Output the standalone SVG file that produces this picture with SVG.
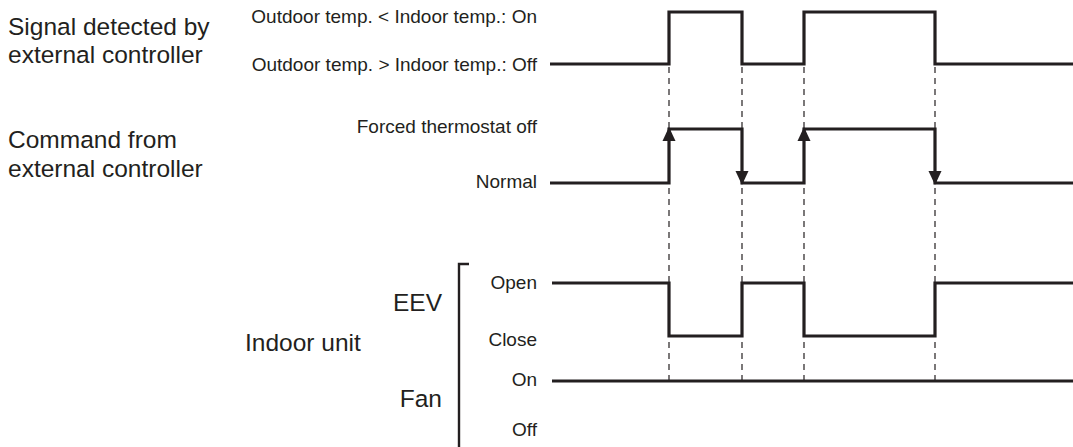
<svg xmlns="http://www.w3.org/2000/svg" width="1073" height="447" viewBox="0 0 1073 447">
  <style>
    text { font-family: "Liberation Sans", Arial, Helvetica, sans-serif; fill: #231f20; }
    .big { font-size: 24.5px; }
    .small { font-size: 19px; text-anchor: end; }
    .wave { fill: none; stroke: #231f20; stroke-width: 3.2; stroke-linejoin: miter; stroke-linecap: butt; }
    .dash { fill: none; stroke: #231f20; stroke-width: 1.2; stroke-dasharray: 6 5; }
    .head { fill: #231f20; }
    .bracket { fill: none; stroke: #231f20; stroke-width: 2.4; }
  </style>
  <rect width="1073" height="447" fill="#ffffff"/>

  <g id="connectors">
    <line class="dash" x1="669" y1="67" x2="669" y2="380"/>
    <line class="dash" x1="742" y1="67" x2="742" y2="380"/>
    <line class="dash" x1="804" y1="67" x2="804" y2="380"/>
    <line class="dash" x1="935" y1="67" x2="935" y2="380"/>
  </g>

  <g id="signal-detected">
    <text class="big" x="8" y="35">Signal detected by</text>
    <text class="big" x="8" y="63">external controller</text>
    <text class="small" x="537" y="23">Outdoor temp. &lt; Indoor temp.: On</text>
    <text class="small" x="537" y="71">Outdoor temp. &gt; Indoor temp.: Off</text>
    <path class="wave" d="M550 64 H669 V12 H742 V64 H804 V12 H935 V64 H1073"/>
  </g>

  <g id="command">
    <text class="big" x="8" y="148">Command from</text>
    <text class="big" x="8" y="177">external controller</text>
    <text class="small" x="537" y="133">Forced thermostat off</text>
    <text class="small" x="537" y="188">Normal</text>
    <path class="wave" d="M550 183 H669 V129 H742 V183 H804 V129 H935 V183 H1073"/>
    <polygon class="head" points="669,127 662.5,141 675.5,141"/>
    <polygon class="head" points="804,127 797.5,141 810.5,141"/>
    <polygon class="head" points="742,185 735.5,171 748.5,171"/>
    <polygon class="head" points="935,185 928.5,171 941.5,171"/>
  </g>

  <g id="indoor-unit">
    <text class="big" x="245" y="351">Indoor unit</text>
    <path class="bracket" d="M469 264 H459 V447"/>
  </g>

  <g id="eev">
    <text class="big" x="442" y="311" text-anchor="end">EEV</text>
    <text class="small" x="537" y="289">Open</text>
    <text class="small" x="537" y="346">Close</text>
    <path class="wave" d="M552 283 H669 V336 H742 V283 H804 V336 H935 V283 H1073"/>
  </g>

  <g id="fan">
    <text class="big" x="442" y="407" text-anchor="end">Fan</text>
    <text class="small" x="537" y="386">On</text>
    <text class="small" x="537" y="436">Off</text>
    <path class="wave" d="M552 381 H1073"/>
  </g>
</svg>
